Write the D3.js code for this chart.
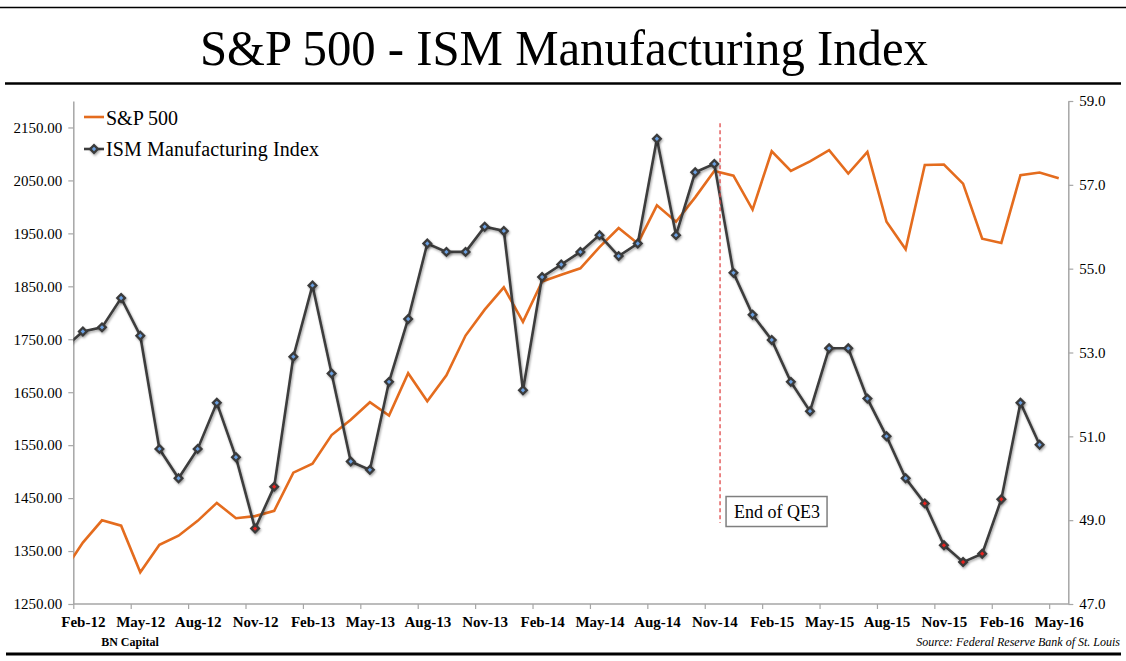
<!DOCTYPE html>
<html>
<head>
<meta charset="utf-8">
<script src="https://cdn.jsdelivr.net/npm/d3@7"></script>
<style>
  html, body { margin: 0; padding: 0; background: #fff; }
  svg { display: block; }
  text { font-family: "Liberation Serif", "DejaVu Serif", serif; }
</style>
</head>
<body>
<svg id="chart" width="1126" height="661"></svg>
<script>
// ---- data ----
const months = ["Jan-12","Feb-12","Mar-12","Apr-12","May-12","Jun-12","Jul-12","Aug-12","Sep-12","Oct-12","Nov-12","Dec-12",
  "Jan-13","Feb-13","Mar-13","Apr-13","May-13","Jun-13","Jul-13","Aug-13","Sep-13","Oct-13","Nov-13","Dec-13",
  "Jan-14","Feb-14","Mar-14","Apr-14","May-14","Jun-14","Jul-14","Aug-14","Sep-14","Oct-14","Nov-14","Dec-14",
  "Jan-15","Feb-15","Mar-15","Apr-15","May-15","Jun-15","Jul-15","Aug-15","Sep-15","Oct-15","Nov-15","Dec-15",
  "Jan-16","Feb-16","Mar-16","Apr-16","May-16"];
const sp500 = [1312,1366,1408,1398,1310,1362,1379,1407,1441,1412,1416,1426,
  1498,1515,1569,1598,1631,1606,1686,1633,1682,1757,1806,1848,
  1783,1859,1872,1884,1924,1960,1931,2003,1972,2018,2068,2059,
  1995,2105,2068,2086,2107,2063,2104,1972,1920,2079,2080,2044,
  1940,1932,2060,2065,2054];
const ism = [53.1,53.5,53.6,54.3,53.4,50.7,50.0,50.7,51.8,50.5,48.8,49.8,
  52.9,54.6,52.5,50.4,50.2,52.3,53.8,55.6,55.4,55.4,56.0,55.9,
  52.1,54.8,55.1,55.4,55.8,55.3,55.6,58.1,55.8,57.3,57.5,54.9,
  53.9,53.3,52.3,51.6,53.1,53.1,51.9,51.0,50.0,49.4,48.4,48.0,
  48.2,49.5,51.8,50.8,null];
const xTickLabels = ["Feb-12","May-12","Aug-12","Nov-12","Feb-13","May-13","Aug-13","Nov-13","Feb-14",
  "May-14","Aug-14","Nov-14","Feb-15","May-15","Aug-15","Nov-15","Feb-16","May-16"];
const leftTicks = [1250,1350,1450,1550,1650,1750,1850,1950,2050,2150];
const rightTicks = [47,49,51,53,55,57,59];
const firstShown = "Feb-12";
const qeMonth = "Nov-14";
const title = "S&P 500 - ISM Manufacturing Index";

// ---- layout ----
const W = 1126, H = 661;
const plot = { left: 73.3, right: 1068.3, top: 101, bottom: 604 };
const svg = d3.select("#chart");

const startIdx = months.indexOf(firstShown);
const nShown = months.length - startIdx;
const idx = m => months.indexOf(m) - startIdx;
const x = d3.scaleLinear().domain([-0.5, nShown - 0.5]).range([plot.left, plot.right]);
const yL = d3.scaleLinear().domain([1250, 2200]).range([plot.bottom, plot.top]);
const yR = d3.scaleLinear().domain([47, 59]).range([plot.bottom, plot.top]);
const step = x(1) - x(0);

const defs = svg.append("defs");
defs.append("clipPath").attr("id", "clip").append("rect")
  .attr("x", plot.left).attr("y", plot.top - 10)
  .attr("width", plot.right - plot.left).attr("height", plot.bottom - plot.top + 20);
const f = defs.append("filter").attr("id", "shadow").attr("x", "-50%").attr("y", "-50%").attr("width", "200%").attr("height", "200%");
f.append("feDropShadow").attr("dx", 1).attr("dy", 1.5).attr("stdDeviation", 1.2)
  .attr("flood-color", "#000").attr("flood-opacity", 0.35);

// ---- header / footer ----
svg.append("line").attr("x1", 0).attr("x2", W).attr("y1", 7.5).attr("y2", 7.5)
  .attr("stroke", "#000").attr("stroke-width", 1.5);
svg.append("text").attr("x", 564).attr("y", 65).attr("text-anchor", "middle")
  .attr("font-size", 51).attr("textLength", 728).attr("lengthAdjust", "spacingAndGlyphs")
  .attr("fill", "#000").text(title);
svg.append("line").attr("x1", 5).attr("x2", 1121).attr("y1", 83.5).attr("y2", 83.5)
  .attr("stroke", "#000").attr("stroke-width", 2.5);
svg.append("line").attr("x1", 6).attr("x2", 1121).attr("y1", 654).attr("y2", 654)
  .attr("stroke", "#000").attr("stroke-width", 3);
svg.append("text").attr("x", 130).attr("y", 646).attr("text-anchor", "middle")
  .attr("font-size", 12).attr("font-weight", "bold").text("BN Capital");
svg.append("text").attr("x", 1120).attr("y", 646).attr("text-anchor", "end")
  .attr("font-size", 12).attr("font-style", "italic").text("Source: Federal Reserve Bank of St. Louis");

// ---- axes ----
const axisColor = "#a6a6a6";
const gL = svg.append("g").attr("transform", `translate(${plot.left},0)`)
  .call(d3.axisLeft(yL).tickValues(leftTicks).tickFormat(d3.format(".2f")).tickSize(5).tickSizeOuter(0));
const gR = svg.append("g").attr("transform", `translate(${plot.right},0)`)
  .call(d3.axisRight(yR).tickValues(rightTicks).tickFormat(d3.format(".1f")).tickSize(5).tickSizeOuter(0));
const boundaries = d3.range(-0.5, nShown - 0.5, 3);
const gB = svg.append("g").attr("transform", `translate(0,${plot.bottom})`)
  .call(d3.axisBottom(x).tickValues(boundaries).tickFormat("").tickSize(5).tickSizeOuter(0));
const gBL = svg.append("g").attr("transform", `translate(0,${plot.bottom})`)
  .call(d3.axisBottom(x).tickValues(xTickLabels.map(idx)).tickFormat(i => months[i + startIdx]).tickSize(0).tickPadding(12));
[gL, gR, gB, gBL].forEach(g => {
  g.selectAll("path.domain").attr("stroke", axisColor).attr("stroke-width", 1.5);
  g.selectAll(".tick line").attr("stroke", axisColor).attr("stroke-width", 1.2);
  g.selectAll("text").attr("font-family", "Liberation Serif, serif").attr("fill", "#000");
});
gBL.select("path.domain").remove();
gL.selectAll("text").attr("font-size", 15).attr("x", -11);
gR.selectAll("text").attr("font-size", 15).attr("x", 11);
gBL.selectAll("text").attr("font-size", 15).attr("font-weight", "bold");
gB.select("path.domain").attr("d", `M${plot.left},0H${plot.right}`);

// ---- series ----
const body = svg.append("g").attr("clip-path", "url(#clip)");
const spData = sp500.map((v, i) => ({ i: i - startIdx, v }));
const ismData = ism.map((v, i) => ({ i: i - startIdx, v }));

body.append("path").datum(spData)
  .attr("fill", "none").attr("stroke", "#E46C1E").attr("stroke-width", 2.6).attr("stroke-linejoin", "miter")
  .attr("d", d3.line().x(d => x(d.i)).y(d => yL(d.v)));

body.append("path").datum(ismData.filter(d => d.v != null))
  .attr("fill", "none").attr("stroke", "#3d3d3d").attr("stroke-width", 2.6)
  .attr("filter", "url(#shadow)")
  .attr("d", d3.line().x(d => x(d.i)).y(d => yR(d.v)));

const diamond = d3.symbol().type(d3.symbolDiamond2);
const markers = body.selectAll("g.mk").data(ismData.filter(d => d.v != null && d.i >= 0)).join("g")
  .attr("class", "mk").attr("transform", d => `translate(${x(d.i)},${yR(d.v)})`);
markers.append("path").attr("d", diamond.size(76)).attr("fill", "#3a3a3a").attr("filter", "url(#shadow)");
markers.append("path").attr("d", diamond.size(12)).attr("fill", d => d.v < 50 ? "#e8231f" : "#6a9fe0");

// ---- QE3 annotation ----
const qx = x(idx(qeMonth)) + step * 0.3;
svg.append("line").attr("x1", qx).attr("x2", qx).attr("y1", yL(2158)).attr("y2", yL(1403))
  .attr("stroke", "#e04848").attr("stroke-width", 1.3).attr("stroke-dasharray", "4,3");
svg.append("rect").attr("x", qx + 6).attr("y", yL(1453)).attr("width", 101).attr("height", 30)
  .attr("fill", "#fff").attr("stroke", "#7f7f7f").attr("stroke-width", 1.5);
svg.append("text").attr("x", qx + 14).attr("y", yL(1453) + 21).attr("font-size", 18).text("End of QE3");

// ---- legend ----
const lg = svg.append("g");
lg.append("line").attr("x1", 84).attr("x2", 104).attr("y1", 117).attr("y2", 117)
  .attr("stroke", "#E46C1E").attr("stroke-width", 2.6);
lg.append("text").attr("x", 106).attr("y", 124.5).attr("font-size", 20).text("S&P 500");
lg.append("line").attr("x1", 84).attr("x2", 104).attr("y1", 149).attr("y2", 149)
  .attr("stroke", "#3d3d3d").attr("stroke-width", 2.6);
const lm = lg.append("g").attr("transform", "translate(94,149)");
lm.append("path").attr("d", diamond.size(76)).attr("fill", "#3a3a3a").attr("filter", "url(#shadow)");
lm.append("path").attr("d", diamond.size(12)).attr("fill", "#6a9fe0");
lg.append("text").attr("x", 106).attr("y", 156).attr("font-size", 20).attr("textLength", 213).text("ISM Manufacturing Index");
</script>
</body>
</html>
